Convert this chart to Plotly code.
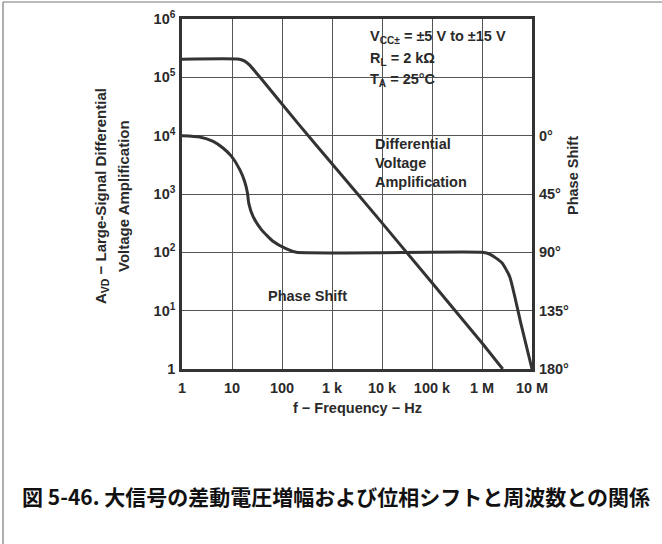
import plotly.graph_objects as go

# ---- data ----
freq_gain = [1, 14, 18, 22.6, 35.7, 225, 1e3, 1e4, 1e5, 1e6, 2.6e6]
gain = [2.05e5, 2.05e5, 1.9e5, 1.62e5, 1.02e5, 1.5e4, 3.3e3, 320, 30, 2.8, 1]

freq_phase = [1, 2.26, 4.2, 6.6, 9.8, 14.3, 17.9, 20.4, 21.6, 26.3, 38.7, 66, 123, 194,
              1e6, 1.45e6, 2.5e6, 3.6e6, 6e6, 1e7]
phase = [0, 1.0, 4.4, 9.5, 16, 26.2, 35.3, 44.2, 52, 62.3, 72.5, 81.5, 87.4, 90,
         90, 91.5, 98, 109, 145, 180]

x_tickvals = [1, 10, 100, 1e3, 1e4, 1e5, 1e6, 1e7]
x_ticktext = ["1", "10", "100", "1 k", "10 k", "100 k", "1 M", "10 M"]
y_tickvals = [1, 10, 100, 1e3, 1e4, 1e5, 1e6]
y_ticktext = ["1", "10<sup>1</sup>", "10<sup>2</sup>", "10<sup>3</sup>",
              "10<sup>4</sup>", "10<sup>5</sup>", "10<sup>6</sup>"]
phase_tickvals = [0, 45, 90, 135, 180]
phase_ticktext = ["0°", "45°", "90°", "135°", "180°"]

conditions = ["V<sub>CC±</sub> = ±5 V to ±15 V", "R<sub>L</sub> = 2 kΩ", "T<sub>A</sub> = 25°C"]
ytitle_lines = ["A<sub>VD</sub> − Large-Signal Differential", "Voltage Amplification"]
caption = "図 5-46. 大信号の差動電圧増幅および位相シフトと周波数との関係"

# ---- layout geometry (pixels) ----
W, H = 662, 544
L, R, T, B = 182, 532, 19, 369
PW, PH = R - L, B - T

def px(x):
    return (x - L) / PW

def py(y):
    return (B - y) / PH

FONT = "Liberation Sans, Arial, sans-serif"
INK = "#2a2a2a"
GRID = "#555555"
fs = 14.5

fig = go.Figure()
fig.add_trace(go.Scatter(x=freq_gain, y=gain, mode="lines",
                         line=dict(color="#333333", width=3, shape="spline", smoothing=0.5),
                         showlegend=False, hoverinfo="skip"))
fig.add_trace(go.Scatter(x=freq_phase, y=phase, mode="lines", yaxis="y2",
                         line=dict(color="#333333", width=3, shape="spline", smoothing=0.5),
                         showlegend=False, hoverinfo="skip"))

tickfont = dict(family=FONT, size=fs, color=INK, weight="bold")
fig.update_layout(
    template="none",
    width=W, height=H,
    margin=dict(l=L, r=W - R, t=T, b=H - B, pad=0, autoexpand=False),
    paper_bgcolor="white", plot_bgcolor="white",
    font=dict(family=FONT, size=fs, color=INK),
    xaxis=dict(type="log", range=[0, 7], tickvals=x_tickvals, ticktext=x_ticktext,
               showgrid=True, gridcolor=GRID, gridwidth=1.3,
               showline=True, linecolor="#333333", linewidth=2.5, mirror=True,
               ticks="outside", ticklen=4, tickcolor="rgba(0,0,0,0)",
               tickfont=tickfont, zeroline=False, fixedrange=True, automargin=False),
    yaxis=dict(type="log", range=[0, 6], tickvals=y_tickvals, ticktext=y_ticktext,
               showgrid=True, gridcolor=GRID, gridwidth=1.3,
               showline=True, linecolor="#333333", linewidth=2.5, mirror=True,
               ticks="outside", ticklen=1, tickcolor="rgba(0,0,0,0)",
               tickfont=tickfont, zeroline=False, fixedrange=True, automargin=False),
    yaxis2=dict(overlaying="y", side="right", range=[180, -90],
                tickvals=phase_tickvals, ticktext=phase_ticktext,
                showgrid=False, zeroline=False, showline=False,
                ticks="outside", ticklen=3, tickcolor="rgba(0,0,0,0)",
                tickfont=tickfont, fixedrange=True, automargin=False),
)

shapes = []
# white masks hiding grid lines behind labels
for (x0, y0, x1, y1) in [(348, 23, 445, 100), (445, 23, 522, 76),
                         (365, 137.5, 476, 191.5), (250, 280, 365, 308.5)]:
    shapes.append(dict(type="rect", xref="paper", yref="paper",
                       x0=px(x0), x1=px(x1), y0=py(y1), y1=py(y0),
                       fillcolor="white", line=dict(width=0), layer="between"))
# outer frame
shapes.append(dict(type="line", xref="paper", yref="paper", x0=px(3), x1=px(3),
                   y0=py(2), y1=py(560), line=dict(color="#777777", width=1.2), layer="above"))
shapes.append(dict(type="line", xref="paper", yref="paper", x0=px(3), x1=px(680),
                   y0=py(2), y1=py(2), line=dict(color="#777777", width=1.2), layer="above"))
fig.update_layout(shapes=shapes)

ann = []
bold = dict(family=FONT, size=fs, color=INK, weight="bold")
for txt, yy in zip(conditions, [37, 59, 80]):
    ann.append(dict(xref="paper", yref="paper", x=px(368), y=py(yy), text=txt,
                    showarrow=False, xanchor="left", yanchor="middle", font=bold))
ann.append(dict(xref="paper", yref="paper", x=px(373), y=py(163),
                text="Differential<br>Voltage<br>Amplification", align="left",
                showarrow=False, xanchor="left", yanchor="middle", font=bold))
ann.append(dict(xref="paper", yref="paper", x=px(307), y=py(296), text="Phase Shift",
                showarrow=False, xanchor="center", yanchor="middle", font=bold))
ann.append(dict(xref="paper", yref="paper", x=px(357), y=py(408), text="f − Frequency − Hz",
                showarrow=False, xanchor="center", yanchor="middle", font=bold))
for txt, xx in zip(ytitle_lines, [101, 123]):
    ann.append(dict(xref="paper", yref="paper", x=px(xx), y=py(196), text=txt,
                    textangle=-90, showarrow=False, xanchor="center", yanchor="middle",
                    font=dict(family=FONT, size=15, color=INK, weight="bold")))
ann.append(dict(xref="paper", yref="paper", x=px(573), y=py(176), text="Phase Shift",
                textangle=-90, showarrow=False, xanchor="center", yanchor="middle", font=bold))
ann.append(dict(xref="paper", yref="paper", x=px(20), y=py(496), text=caption,
                showarrow=False, xanchor="left", yanchor="middle",
                font=dict(family="Noto Sans CJK JP, sans-serif", size=21, color="#111111", weight="bold")))
fig.update_layout(annotations=ann)

fig.write_html("out.html", config={"displayModeBar": False},
               post_script="document.body.style.margin='0';")
